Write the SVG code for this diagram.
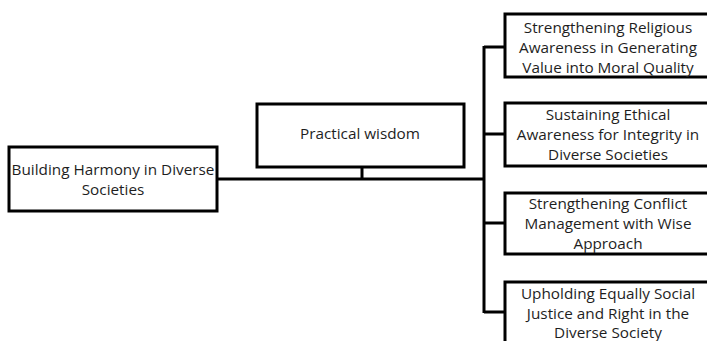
<svg xmlns="http://www.w3.org/2000/svg" width="707" height="341" viewBox="0 0 707 341">
<style>
.box{fill:#fff;stroke:#000;stroke-width:3}
.ln{fill:none;stroke:#000;stroke-width:3}
text{font-family:"Open Sans","Noto Sans",sans-serif;font-size:15.3px;fill:#1e1e1e;text-anchor:middle}
</style>
<rect width="707" height="341" fill="#fff"/>
<g id="connectors">
<path class="ln" d="M217 179H484"/>
<path class="ln" d="M362 167V179"/>
<path class="ln" d="M484 46V313"/>
<path class="ln" d="M484 47H505M484 134H505M484 223H505M484 312H505"/>
</g>
<g id="root">
<rect class="box" x="9" y="147" width="208" height="64"/>
<text x="113" y="175">Building Harmony in Diverse</text>
<text x="113" y="195">Societies</text>
</g>
<g id="practical">
<rect class="box" x="257" y="104" width="207" height="63"/>
<text x="360" y="139">Practical wisdom</text>
</g>
<g id="n1">
<rect class="box" x="505" y="14" width="210" height="63"/>
<text x="608" y="33">Strengthening Religious</text>
<text x="608" y="53">Awareness in Generating</text>
<text x="608" y="73">Value into Moral Quality</text>
</g>
<g id="n2">
<rect class="box" x="505" y="103" width="210" height="63"/>
<text x="608" y="120">Sustaining Ethical</text>
<text x="608" y="140">Awareness for Integrity in</text>
<text x="608" y="160">Diverse Societies</text>
</g>
<g id="n3">
<rect class="box" x="505" y="193" width="210" height="61"/>
<text x="608" y="209">Strengthening Conflict</text>
<text x="608" y="229">Management with Wise</text>
<text x="608" y="249">Approach</text>
</g>
<g id="n4">
<rect class="box" x="505" y="282" width="210" height="70"/>
<text x="608" y="299">Upholding Equally Social</text>
<text x="608" y="319">Justice and Right in the</text>
<text x="608" y="338">Diverse Society</text>
</g>
</svg>
